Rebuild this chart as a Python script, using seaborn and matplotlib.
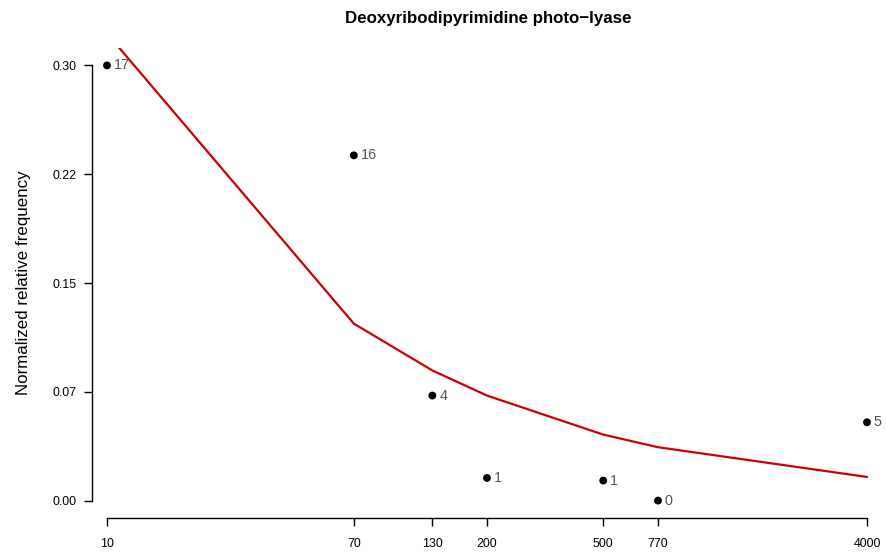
import matplotlib
matplotlib.use("Agg")
import matplotlib.pyplot as plt
import seaborn as sns
import pandas as pd
import math
from matplotlib.ticker import FixedLocator, NullLocator, FixedFormatter

# ---- data ----
sizes = [10, 70, 130, 200, 500, 770, 4000]
counts = [17, 16, 4, 1, 1, 0, 5]
observed = [0.300, 0.238, 0.0724, 0.0156, 0.0138, 0.0, 0.054]
fitted = [0.322, 0.122, 0.0897, 0.0724, 0.0455, 0.0368, 0.0163]
y_ticks = [0.0, 0.075, 0.15, 0.225, 0.30]
y_tick_labels = ["0.00", "0.07", "0.15", "0.22", "0.30"]
x_tick_labels = ["10", "70", "130", "200", "500", "770", "4000"]
title = "Deoxyribodipyrimidine photo\u2212lyase"
ylabel = "Normalized relative frequency"

df = pd.DataFrame({"size": sizes, "obs": observed, "fit": fitted, "n": counts})

sns.set_style("white")
plt.rcParams["font.family"] = ["Liberation Sans", "DejaVu Sans"]
plt.rcParams["text.color"] = "black"

W, H = 886, 554
fig = plt.figure(figsize=(W / 100, H / 100), dpi=100)
left, right, top, bottom = 92, 882, 48, 518
ax = fig.add_axes([left / W, 1 - bottom / H, (right - left) / W, (bottom - top) / H])

sns.lineplot(data=df, x="size", y="fit", ax=ax, color="#CC0000", linewidth=1.6,
             zorder=2)
sns.scatterplot(data=df, x="size", y="obs", ax=ax, color="black", s=32,
                edgecolor="none", zorder=3)

for xv, yv, n in zip(sizes, observed, counts):
    ax.annotate(str(n), (xv, yv), xytext=(5, 0), textcoords="offset points",
                va="center", ha="left", fontsize=10.4, color="#555555")

ax.set_xscale("log")
px_per_dec = 760 / 2.60206
ax.set_xlim(10 ** (1 - 15 / px_per_dec), 10 ** (math.log10(4000) + 15 / px_per_dec))
ax.set_ylim(-0.012, 0.312)

ax.xaxis.set_major_locator(FixedLocator(sizes))
ax.xaxis.set_major_formatter(FixedFormatter(x_tick_labels))
ax.xaxis.set_minor_locator(NullLocator())
ax.set_yticks(y_ticks)
ax.set_yticklabels(y_tick_labels)

for s in ["top", "right"]:
    ax.spines[s].set_visible(False)
ax.spines["left"].set_bounds(0, 0.30)
ax.spines["bottom"].set_bounds(10, 4000)
for s in ["left", "bottom"]:
    ax.spines[s].set_linewidth(1.0)
    ax.spines[s].set_color("black")

ax.tick_params(axis="both", which="major", direction="out", length=5.9, width=1.0,
               color="black", labelsize=8.9, labelcolor="black",
               bottom=True, left=True)
ax.tick_params(axis="x", pad=8.5)
ax.tick_params(axis="y", pad=5)
ax.set_xlabel("")
ax.set_ylabel("")

fig.text(488 / W, 1 - 19 / H, title, ha="center", va="center",
         fontsize=12.2, fontweight="bold", color="black")
fig.text(24 / W, 1 - 283 / H, ylabel, ha="center", va="center", rotation=90,
         fontsize=12.2, color="black")

fig.savefig("out.png", dpi=100)
